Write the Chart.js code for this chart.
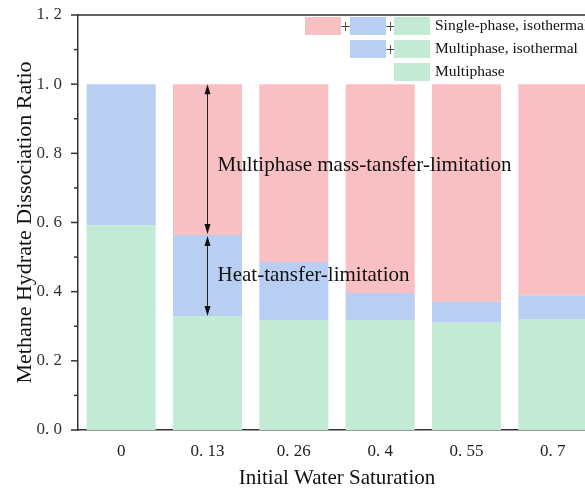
<!DOCTYPE html>
<html>
<head>
<meta charset="utf-8">
<script src="https://cdn.jsdelivr.net/npm/chart.js@4.4.0/dist/chart.umd.min.js"></script>
<style>
html,body{margin:0;padding:0;background:#fff;overflow:hidden}
#wrap{width:610px;height:491px}
</style>
</head>
<body>
<div id="wrap"><canvas id="c" width="610" height="491"></canvas></div>
<script>
const saturations=["0","0.13","0.26","0.4","0.55","0.7"]
const multiphase=[0.592,0.330,0.318,0.318,0.310,0.321]
const multiIso=[0.408,0.234,0.168,0.078,0.061,0.069]
const singleIso=[0,0.436,0.514,0.604,0.629,0.610]
const yTicks=[0,0.2,0.4,0.6,0.8,1.0,1.2]

const GREEN="#c3ead5"
const BLUE="#b8cff3"
const PINK="#f9c0c4"
const FONT="'Liberation Serif','Times New Roman',serif"

function fmt(v){return v.replace(".",". ")}

const extras={
id:"extras",
afterDraw(c){
const ctx=c.ctx
const a=c.chartArea
const ys=c.scales.y
ctx.save()
ctx.strokeStyle="#333"
ctx.lineWidth=1.5
// top frame line
ctx.beginPath()
ctx.moveTo(a.left,a.top)
ctx.lineTo(a.right,a.top)
ctx.stroke()
// y ticks, major + minor
for(let i=0;i<=12;i++){
let py=ys.getPixelForValue(i/10)
let len=i%2==0?7:4
ctx.beginPath()
ctx.moveTo(a.left-len,py)
ctx.lineTo(a.left,py)
ctx.stroke()
}
// arrows on 0.13 bar
let mg=c.getDatasetMeta(0).data[1]
let mb=c.getDatasetMeta(1).data[1]
let mp=c.getDatasetMeta(2).data[1]
let x=mg.x
let yTop=mp.y, yMid=mb.y, yBot=mg.y
ctx.strokeStyle="#222"
ctx.fillStyle="#111"
ctx.lineWidth=1
function head(y,d){
ctx.beginPath()
ctx.moveTo(x,y)
ctx.lineTo(x-3,y+d*10)
ctx.lineTo(x+3,y+d*10)
ctx.closePath()
ctx.fill()
}
function seg(y1,y2){
ctx.beginPath()
ctx.moveTo(x,y1+8)
ctx.lineTo(x,y2-8)
ctx.stroke()
head(y1,1)
head(y2,-1)
}
seg(yTop,yMid-1)
seg(yMid+1,yBot)
ctx.font="21px "+FONT
ctx.fillStyle="#111"
ctx.textBaseline="middle"
ctx.textAlign="left"
ctx.fillText("Multiphase mass-tansfer-limitation",x+10,165)
ctx.fillText("Heat-tansfer-limitation",x+10,275)
// legend
let rows=[
{y:26,boxes:[PINK,BLUE,GREEN],text:"Single-phase, isothermal"},
{y:49,boxes:[BLUE,GREEN],text:"Multiphase, isothermal"},
{y:72,boxes:[GREEN],text:"Multiphase"}
]
let bx=[305,350,394]
rows.forEach(r=>{
let start=3-r.boxes.length
r.boxes.forEach((col,k)=>{
let px=bx[start+k]
ctx.fillStyle=col
ctx.fillRect(px,r.y-9,36,18)
if(k<r.boxes.length-1){
ctx.fillStyle="#444"
ctx.font="18px "+FONT
ctx.textAlign="center"
ctx.fillText("+",px+40.5,r.y+2)
ctx.textAlign="left"
}
})
ctx.fillStyle="#111"
ctx.font="15.5px "+FONT
ctx.fillText(r.text,435,r.y)
})
ctx.restore()
}
}

new Chart(document.getElementById("c"),{
type:"bar",
data:{
labels:saturations,
datasets:[
{label:"Multiphase",data:multiphase,backgroundColor:GREEN},
{label:"Multiphase, isothermal",data:multiIso,backgroundColor:BLUE},
{label:"Single-phase, isothermal",data:singleIso,backgroundColor:PINK}
]
},
options:{
responsive:false,
animation:false,
layout:{padding:{left:0,right:14,top:15,bottom:0}},
datasets:{bar:{barPercentage:0.8,categoryPercentage:1}},
plugins:{legend:{display:false},tooltip:{enabled:false}},
scales:{
x:{
stacked:true,
grid:{display:false},
border:{display:true,color:"#333",width:1.5},
ticks:{color:"#222",font:{family:FONT,size:17},padding:3,callback:function(v,i){return fmt(saturations[i])}},
title:{display:true,text:"Initial Water Saturation",color:"#111",font:{family:FONT,size:21},padding:{top:0,bottom:0}},
afterFit:s=>{s.height=61}
},
y:{
stacked:true,
min:0,max:1.2,
grid:{display:false},
border:{display:true,color:"#333",width:1.5},
afterBuildTicks:s=>{s.ticks=yTicks.map(v=>({value:v}))},
ticks:{color:"#333",font:{family:FONT,size:17},padding:8,callback:v=>fmt(v.toFixed(1))},
title:{display:true,text:"Methane Hydrate Dissociation Ratio",color:"#111",font:{family:FONT,size:22},padding:{top:12,bottom:0}},
afterFit:s=>{s.width=78;s.paddingTop=0;s.paddingBottom=0}
}
}
},
plugins:[extras]
})
</script>
</body>
</html>
